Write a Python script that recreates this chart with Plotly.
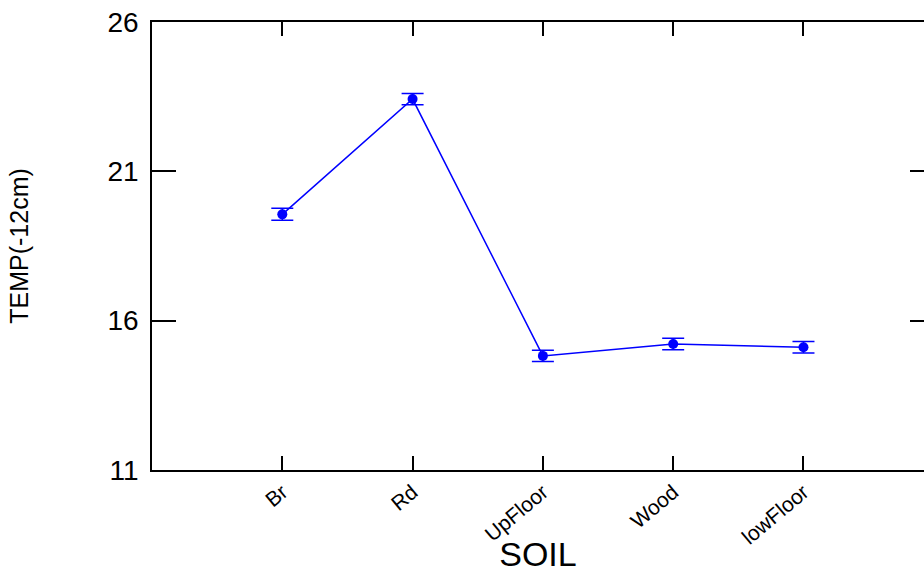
import plotly.graph_objects as go

categories = ["Br", "Rd", "UpFloor", "Wood", "lowFloor"]
temp_means = [19.56, 23.42, 14.82, 15.22, 15.11]
temp_err = [0.2, 0.19, 0.19, 0.19, 0.19]
y_ticks = [11, 16, 21, 26]

blue = "rgb(0,0,255)"
font_family = "Liberation Sans, Arial, sans-serif"

fig = go.Figure()
fig.add_trace(go.Scatter(
    x=categories, y=temp_means,
    mode="lines+markers",
    line=dict(color=blue, width=1.5),
    marker=dict(color=blue, size=10, symbol="circle"),
    error_y=dict(type="data", array=temp_err, visible=True, color=blue,
                 thickness=1.5, width=11),
    showlegend=False,
))
# invisible trace to host the right-hand tick axis
fig.add_trace(go.Scatter(x=categories, y=temp_means, yaxis="y2",
                         mode="markers", marker=dict(opacity=0),
                         showlegend=False, hoverinfo="skip"))

fig.update_layout(
    width=924, height=573,
    margin=dict(l=152, r=0, t=22, b=103),
    paper_bgcolor="white", plot_bgcolor="white",
    font=dict(family=font_family, color="black"),
    xaxis=dict(
        type="category", range=[-1, 4.925], automargin=False,
        showline=True, linecolor="black", linewidth=1.5, mirror="ticks",
        ticks="inside", ticklen=14, tickcolor="black", tickwidth=1.5,
        tickangle=-40, tickfont=dict(size=21),
        showgrid=False, zeroline=False,
        title=dict(text="SOIL", font=dict(size=34), standoff=16),
    ),
    yaxis=dict(
        range=[11, 26], tickvals=y_ticks, automargin=False,
        showline=True, linecolor="black", linewidth=1.5, mirror=False,
        ticks="inside", ticklen=24, tickcolor="black", tickwidth=1.5,
        tickfont=dict(size=28), ticklabelstandoff=6,
        showgrid=False, zeroline=False,
        title=dict(text="TEMP(-12cm)", font=dict(size=25), standoff=72),
    ),
    yaxis2=dict(
        range=[11, 26], tickvals=y_ticks, overlaying="y", side="right",
        automargin=False,
        showline=False, ticks="inside", ticklen=14, tickcolor="black",
        tickwidth=1.5, showticklabels=False, showgrid=False, zeroline=False,
    ),
)

fig.write_html("out.html")
